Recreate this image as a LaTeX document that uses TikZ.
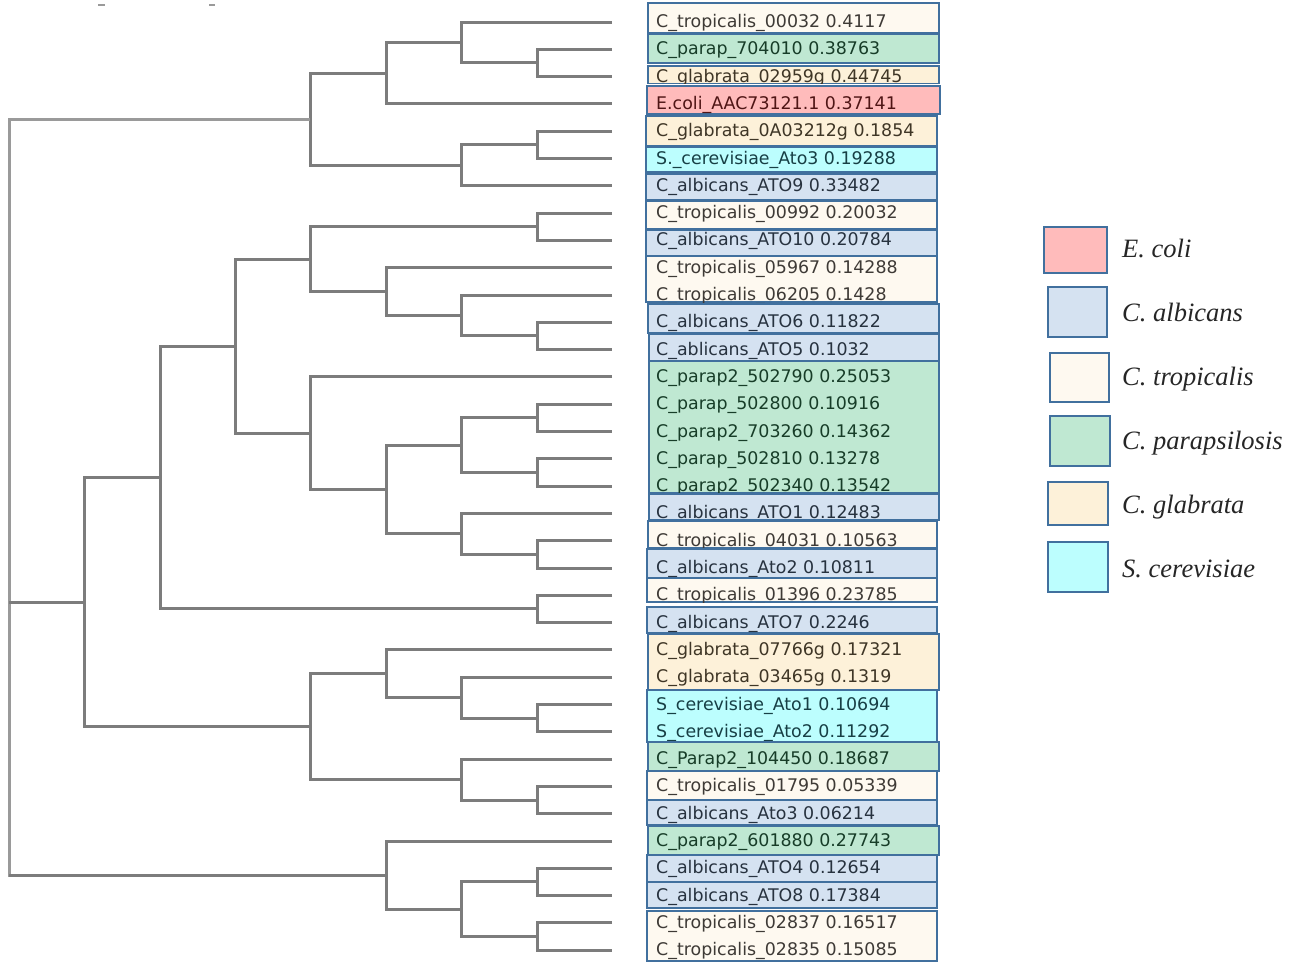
\documentclass[tikz,border=0pt]{standalone}
\usepackage{fontspec}
\usepackage{tikz}
\setmainfont{Liberation Serif}
\newfontfamily\labelfont{DejaVu Sans}

\definecolor{branchgray}{HTML}{7C7C7C}
\definecolor{rootgray}{HTML}{9A9A9A}
\definecolor{boxedge}{HTML}{41709E}
\definecolor{tropfill}{HTML}{FEF9F0}
\definecolor{albfill}{HTML}{D5E2F1}
\definecolor{parapfill}{HTML}{BFE8D2}
\definecolor{glabfill}{HTML}{FDF1D9}
\definecolor{cerefill}{HTML}{BCFEFE}
\definecolor{ecolifill}{HTML}{FFBBBB}
\definecolor{troptext}{HTML}{3E3A36}
\definecolor{albtext}{HTML}{27323F}
\definecolor{paraptext}{HTML}{173D28}
\definecolor{glabtext}{HTML}{3F3626}
\definecolor{ceretext}{HTML}{173F45}
\definecolor{ecolitext}{HTML}{4F1515}

\begin{document}
\begin{tikzpicture}[x=1pt,y=-1pt]
\tikzstyle{every node}=[inner sep=0pt]
\tikzstyle{branch}=[draw=branchgray, line width=3pt]
\tikzstyle{rootbranch}=[draw=rootgray, line width=3pt]
\tikzstyle{tipbox}=[draw=boxedge, line width=1.8pt]
\tikzstyle{tropbox}=[tipbox, fill=tropfill]
\tikzstyle{albbox}=[tipbox, fill=albfill]
\tikzstyle{parapbox}=[tipbox, fill=parapfill]
\tikzstyle{glabbox}=[tipbox, fill=glabfill]
\tikzstyle{cerebox}=[tipbox, fill=cerefill]
\tikzstyle{ecolibox}=[tipbox, fill=ecolifill]
\tikzstyle{tiplabel}=[anchor=base west, font=\labelfont\fontsize{17.4}{19}\selectfont]
\tikzstyle{keybox}=[draw=boxedge, line width=2.2pt]
\tikzstyle{keytext}=[anchor=base west, text=black!85, font=\itshape\fontsize{26.5}{30}\selectfont]

\useasboundingbox (0,0) rectangle (1303,962);

% tips
\coordinate (Trop00032) at (612,22);
\coordinate (Parap704010) at (612,49.3);
\coordinate (Glab02959) at (612,76.6);
\coordinate (EcoliAAC) at (612,103.9);
\coordinate (Glab0A03212) at (612,131.2);
\coordinate (CereAto3) at (612,158.5);
\coordinate (AlbATO9) at (612,185.8);
\coordinate (Trop00992) at (612,213.1);
\coordinate (AlbATO10) at (612,240.4);
\coordinate (Trop05967) at (612,267.7);
\coordinate (Trop06205) at (612,295);
\coordinate (AlbATO6) at (612,322.3);
\coordinate (AlbATO5) at (612,349.6);
\coordinate (Parap502790) at (612,376.9);
\coordinate (Parap502800) at (612,404.2);
\coordinate (Parap703260) at (612,431.5);
\coordinate (Parap502810) at (612,458.8);
\coordinate (Parap502340) at (612,486.1);
\coordinate (AlbATO1) at (612,513.4);
\coordinate (Trop04031) at (612,540.7);
\coordinate (AlbAto2) at (612,568);
\coordinate (Trop01396) at (612,595.3);
\coordinate (AlbATO7) at (612,622.6);
\coordinate (Glab07766) at (612,649.9);
\coordinate (Glab03465) at (612,677.2);
\coordinate (CereAto1) at (612,704.5);
\coordinate (CereAto2) at (612,731.8);
\coordinate (Parap104450) at (612,759.1);
\coordinate (Trop01795) at (612,786.4);
\coordinate (AlbAto3) at (612,813.7);
\coordinate (Parap601880) at (612,841);
\coordinate (AlbATO4) at (612,868.3);
\coordinate (AlbATO8) at (612,895.6);
\coordinate (Trop02837) at (612,922.9);
\coordinate (Trop02835) at (612,950.2);

% inner nodes
\coordinate (ParapGlab) at (537,62.95);
\coordinate (TropParapGlab) at (461,42.5);
\coordinate (EcoliGroup) at (386,73.2);
\coordinate (GlabCere) at (537,144.85);
\coordinate (GlabCereAlb) at (461,165.3);
\coordinate (TopClade) at (310,119.25);
\coordinate (TropAlbA) at (537,226.75);
\coordinate (AlbPair) at (537,335.95);
\coordinate (TropAlbPair) at (461,315.5);
\coordinate (TropGroup) at (386,291.6);
\coordinate (UpperMix) at (310,259.2);
\coordinate (ParapPairA) at (537,417.85);
\coordinate (ParapPairB) at (537,472.45);
\coordinate (ParapGroup) at (461,445.15);
\coordinate (TropAlbB) at (537,554.35);
\coordinate (AlbTropAlb) at (461,533.9);
\coordinate (ParapAlbGroup) at (386,489.5);
\coordinate (ParapClade) at (310,433.2);
\coordinate (UpperClade) at (235,346.2);
\coordinate (TropAlbC) at (537,608.95);
\coordinate (MidUpper) at (160,477.6);
\coordinate (CerePair) at (537,718.15);
\coordinate (GlabCerePair) at (461,697.7);
\coordinate (GlabCereGroup) at (386,673.8);
\coordinate (TropAlbD) at (537,800.05);
\coordinate (ParapTropAlb) at (461,779.6);
\coordinate (MidLower) at (310,726.7);
\coordinate (MidClade) at (84,602.15);
\coordinate (AlbPairB) at (537,881.95);
\coordinate (TropPair) at (537,936.55);
\coordinate (AlbTropGroup) at (461,909.25);
\coordinate (BottomClade) at (386,875.1);
\coordinate (Root) at (9,602.15);

\draw[rootgray, line width=1.2pt] (98,5) -- (105,5);
\draw[rootgray, line width=1.2pt] (209,5) -- (215,5);

% top clade
\draw[branch] (Parap704010) -| (ParapGlab) |- (Glab02959);
\draw[branch] (Trop00032) -| (TropParapGlab) |- (ParapGlab);
\draw[branch] (TropParapGlab) -| (EcoliGroup) |- (EcoliAAC);
\draw[branch] (Glab0A03212) -| (GlabCere) |- (CereAto3);
\draw[branch] (GlabCere) -| (GlabCereAlb) |- (AlbATO9);
\draw[branch] (EcoliGroup) -| (TopClade) |- (GlabCereAlb);

% middle clade
\draw[branch] (Trop00992) -| (TropAlbA) |- (AlbATO10);
\draw[branch] (AlbATO6) -| (AlbPair) |- (AlbATO5);
\draw[branch] (Trop06205) -| (TropAlbPair) |- (AlbPair);
\draw[branch] (Trop05967) -| (TropGroup) |- (TropAlbPair);
\draw[branch] (TropAlbA) -| (UpperMix) |- (TropGroup);
\draw[branch] (Parap502800) -| (ParapPairA) |- (Parap703260);
\draw[branch] (Parap502810) -| (ParapPairB) |- (Parap502340);
\draw[branch] (ParapPairA) -| (ParapGroup) |- (ParapPairB);
\draw[branch] (Trop04031) -| (TropAlbB) |- (AlbAto2);
\draw[branch] (AlbATO1) -| (AlbTropAlb) |- (TropAlbB);
\draw[branch] (ParapGroup) -| (ParapAlbGroup) |- (AlbTropAlb);
\draw[branch] (Parap502790) -| (ParapClade) |- (ParapAlbGroup);
\draw[branch] (UpperMix) -| (UpperClade) |- (ParapClade);
\draw[branch] (Trop01396) -| (TropAlbC) |- (AlbATO7);
\draw[branch] (UpperClade) -| (MidUpper) |- (TropAlbC);
\draw[branch] (CereAto1) -| (CerePair) |- (CereAto2);
\draw[branch] (Glab03465) -| (GlabCerePair) |- (CerePair);
\draw[branch] (Glab07766) -| (GlabCereGroup) |- (GlabCerePair);
\draw[branch] (Trop01795) -| (TropAlbD) |- (AlbAto3);
\draw[branch] (Parap104450) -| (ParapTropAlb) |- (TropAlbD);
\draw[branch] (GlabCereGroup) -| (MidLower) |- (ParapTropAlb);
\draw[branch] (MidUpper) -| (MidClade) |- (MidLower);

% bottom clade and root
\draw[branch] (AlbATO4) -| (AlbPairB) |- (AlbATO8);
\draw[branch] (Trop02837) -| (TropPair) |- (Trop02835);
\draw[branch] (AlbPairB) -| (AlbTropGroup) |- (TropPair);
\draw[branch] (Parap601880) -| (BottomClade) |- (AlbTropGroup);
\draw[rootbranch] (TopClade) -| (Root) |- (BottomClade);
\draw[branch] (Root |- BottomClade) -- (BottomClade);
\draw[branch] (Root) |- (MidClade);

% labels
\draw[tropbox] (648,3) rectangle (939,33);
\begin{scope}
\clip (648,3) rectangle (939,33);
\node[tiplabel, text=troptext] (LabTrop00032) at (656,27.5) {C\_tropicalis\_00032 0.4117};
\end{scope}
\draw[parapbox] (648,34) rectangle (939,63);
\begin{scope}
\clip (648,34) rectangle (939,63);
\node[tiplabel, text=paraptext] (LabParap704010) at (656,54.8) {C\_parap\_704010 0.38763};
\end{scope}
\draw[glabbox] (648,66) rectangle (939,83.5);
\begin{scope}
\clip (648,66) rectangle (939,83.5);
\node[tiplabel, text=glabtext] (LabGlab02959) at (656,82.1) {C\_glabrata\_02959g 0.44745};
\end{scope}
\draw[ecolibox] (647,86) rectangle (940,114);
\begin{scope}
\clip (647,86) rectangle (940,114);
\node[tiplabel, text=ecolitext] (LabEcoli) at (656,109.4) {E.coli\_AAC73121.1 0.37141};
\end{scope}
\draw[glabbox] (646,116) rectangle (937,146);
\begin{scope}
\clip (646,116) rectangle (937,146);
\node[tiplabel, text=glabtext] (LabGlab0A03212) at (656,136.7) {C\_glabrata\_0A03212g 0.1854};
\end{scope}
\draw[cerebox] (646,147) rectangle (937,172);
\begin{scope}
\clip (646,147) rectangle (937,172);
\node[tiplabel, text=ceretext] (LabCereAto3) at (656,164) {S.\_cerevisiae\_Ato3 0.19288};
\end{scope}
\draw[albbox] (646,174) rectangle (937,200);
\begin{scope}
\clip (646,174) rectangle (937,200);
\node[tiplabel, text=albtext] (LabAlbATO9) at (656,191.3) {C\_albicans\_ATO9 0.33482};
\end{scope}
\draw[tropbox] (646,201) rectangle (937,229);
\begin{scope}
\clip (646,201) rectangle (937,229);
\node[tiplabel, text=troptext] (LabTrop00992) at (656,218.6) {C\_tropicalis\_00992 0.20032};
\end{scope}
\draw[albbox] (646,230) rectangle (937,256);
\begin{scope}
\clip (646,230) rectangle (937,256);
\node[tiplabel, text=albtext] (LabAlbATO10) at (656,245.9) {C\_albicans\_ATO10 0.20784};
\end{scope}
\draw[tropbox] (646,256) rectangle (937,302);
\begin{scope}
\clip (646,256) rectangle (937,302);
\node[tiplabel, text=troptext] (LabTrop05967) at (656,273.2) {C\_tropicalis\_05967 0.14288};
\node[tiplabel, text=troptext] (LabTrop06205) at (656,300.5) {C\_tropicalis\_06205 0.1428};
\end{scope}
\draw[albbox] (648,304) rectangle (939,333);
\begin{scope}
\clip (648,304) rectangle (939,333);
\node[tiplabel, text=albtext] (LabAlbATO6) at (656,327.8) {C\_albicans\_ATO6 0.11822};
\end{scope}
\draw[albbox] (649,334) rectangle (939,361);
\begin{scope}
\clip (649,334) rectangle (939,361);
\node[tiplabel, text=albtext] (LabAlbATO5) at (656,355.1) {C\_ablicans\_ATO5 0.1032};
\end{scope}
\draw[parapbox] (649,361) rectangle (939,493);
\begin{scope}
\clip (649,361) rectangle (939,493);
\node[tiplabel, text=paraptext] (LabParap502790) at (656,382.4) {C\_parap2\_502790 0.25053};
\node[tiplabel, text=paraptext] (LabParap502800) at (656,409.7) {C\_parap\_502800 0.10916};
\node[tiplabel, text=paraptext] (LabParap703260) at (656,437) {C\_parap2\_703260 0.14362};
\node[tiplabel, text=paraptext] (LabParap502810) at (656,464.3) {C\_parap\_502810 0.13278};
\node[tiplabel, text=paraptext] (LabParap502340) at (656,491.6) {C\_parap2\_502340 0.13542};
\end{scope}
\draw[albbox] (649,494) rectangle (939,520);
\begin{scope}
\clip (649,494) rectangle (939,520);
\node[tiplabel, text=albtext] (LabAlbATO1) at (656,518.9) {C\_albicans\_ATO1 0.12483};
\end{scope}
\draw[tropbox] (648,521) rectangle (937,548);
\begin{scope}
\clip (648,521) rectangle (937,548);
\node[tiplabel, text=troptext] (LabTrop04031) at (656,546.2) {C\_tropicalis\_04031 0.10563};
\end{scope}
\draw[albbox] (647,549) rectangle (937,578);
\begin{scope}
\clip (647,549) rectangle (937,578);
\node[tiplabel, text=albtext] (LabAlbAto2) at (656,573.5) {C\_albicans\_Ato2 0.10811};
\end{scope}
\draw[tropbox] (647,578) rectangle (937,602);
\begin{scope}
\clip (647,578) rectangle (937,602);
\node[tiplabel, text=troptext] (LabTrop01396) at (656,600.8) {C\_tropicalis\_01396 0.23785};
\end{scope}
\draw[albbox] (647,607) rectangle (937,633);
\begin{scope}
\clip (647,607) rectangle (937,633);
\node[tiplabel, text=albtext] (LabAlbATO7) at (656,628.1) {C\_albicans\_ATO7 0.2246};
\end{scope}
\draw[glabbox] (648,634) rectangle (939,690);
\begin{scope}
\clip (648,634) rectangle (939,690);
\node[tiplabel, text=glabtext] (LabGlab07766) at (656,655.4) {C\_glabrata\_07766g 0.17321};
\node[tiplabel, text=glabtext] (LabGlab03465) at (656,682.7) {C\_glabrata\_03465g 0.1319};
\end{scope}
\draw[cerebox] (647,690) rectangle (937,742);
\begin{scope}
\clip (647,690) rectangle (937,742);
\node[tiplabel, text=ceretext] (LabCereAto1) at (656,710) {S\_cerevisiae\_Ato1 0.10694};
\node[tiplabel, text=ceretext] (LabCereAto2) at (656,737.3) {S\_cerevisiae\_Ato2 0.11292};
\end{scope}
\draw[parapbox] (648,742) rectangle (939,771);
\begin{scope}
\clip (648,742) rectangle (939,771);
\node[tiplabel, text=paraptext] (LabParap104450) at (656,764.6) {C\_Parap2\_104450 0.18687};
\end{scope}
\draw[tropbox] (647,771) rectangle (937,800);
\begin{scope}
\clip (647,771) rectangle (937,800);
\node[tiplabel, text=troptext] (LabTrop01795) at (656,791.9) {C\_tropicalis\_01795 0.05339};
\end{scope}
\draw[albbox] (647,800) rectangle (937,825);
\begin{scope}
\clip (647,800) rectangle (937,825);
\node[tiplabel, text=albtext] (LabAlbAto3) at (656,819.2) {C\_albicans\_Ato3 0.06214};
\end{scope}
\draw[parapbox] (648,826) rectangle (939,855);
\begin{scope}
\clip (648,826) rectangle (939,855);
\node[tiplabel, text=paraptext] (LabParap601880) at (656,846.5) {C\_parap2\_601880 0.27743};
\end{scope}
\draw[albbox] (647,855) rectangle (937,882);
\begin{scope}
\clip (647,855) rectangle (937,882);
\node[tiplabel, text=albtext] (LabAlbATO4) at (656,873.8) {C\_albicans\_ATO4 0.12654};
\end{scope}
\draw[albbox] (647,882) rectangle (937,908);
\begin{scope}
\clip (647,882) rectangle (937,908);
\node[tiplabel, text=albtext] (LabAlbATO8) at (656,901.1) {C\_albicans\_ATO8 0.17384};
\end{scope}
\draw[tropbox] (647,911) rectangle (937,961);
\begin{scope}
\clip (647,911) rectangle (937,961);
\node[tiplabel, text=troptext] (LabTrop02837) at (656,928.4) {C\_tropicalis\_02837 0.16517};
\node[tiplabel, text=troptext] (LabTrop02835) at (656,955.7) {C\_tropicalis\_02835 0.15085};
\end{scope}

% key
\draw[keybox, fill=ecolifill] (1044,227) rectangle (1107,273);
\draw[keybox, fill=albfill] (1048,287) rectangle (1107,337);
\draw[keybox, fill=tropfill] (1050,353) rectangle (1109,402);
\draw[keybox, fill=parapfill] (1050,416) rectangle (1110,466);
\draw[keybox, fill=glabfill] (1048,482) rectangle (1108,525);
\draw[keybox, fill=cerefill] (1048,542) rectangle (1108,592);
\node[keytext] (KeyEcoli) at (1122,257) {E. coli};
\node[keytext] (KeyAlb) at (1122,321) {C. albicans};
\node[keytext] (KeyTrop) at (1122,385) {C. tropicalis};
\node[keytext] (KeyParap) at (1122,449) {C. parapsilosis};
\node[keytext] (KeyGlab) at (1122,513) {C. glabrata};
\node[keytext] (KeyCere) at (1122,577) {S. cerevisiae};
\end{tikzpicture}
\end{document}
